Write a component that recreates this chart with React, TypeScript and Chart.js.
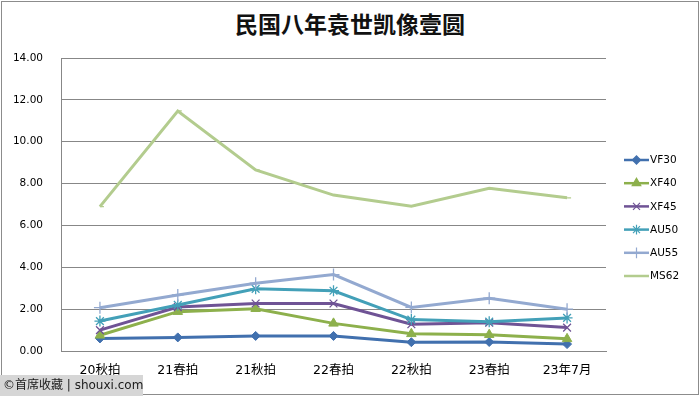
import React, { useEffect, useRef } from "react";
import { Chart, registerables } from "chart.js";
import { drawPoint } from "chart.js/helpers";

Chart.register(...registerables);

const categories = ["20秋拍", "21春拍", "21秋拍", "22春拍", "22秋拍", "23春拍", "23年7月"];
const vf30 = [0.6, 0.65, 0.72, 0.72, 0.42, 0.43, 0.33];
const xf40 = [0.75, 1.88, 2.02, 1.32, 0.82, 0.78, 0.58];
const xf45 = [1.0, 2.1, 2.27, 2.27, 1.28, 1.35, 1.12];
const au50 = [1.43, 2.2, 2.97, 2.88, 1.5, 1.4, 1.58];
const au55 = [2.07, 2.68, 3.24, 3.65, 2.08, 2.52, 2.0];
const ms62 = [6.9, 11.47, 8.65, 7.45, 6.92, 7.77, 7.32];
const yTicks = [0, 2, 4, 6, 8, 10, 12, 14];

const seriesNames = ["VF30", "XF40", "XF45", "AU50", "AU55", "MS62"];
const seriesData = [vf30, xf40, xf45, au50, au55, ms62];
const seriesColors = ["#4170AE", "#8DB04C", "#6F5395", "#43A0B8", "#93A9D0", "#B3CC8E"];
const seriesMarkers: any[] = ["rectRot", "triangle", "crossRot", "star", "cross", "dash"];
const markerRadius = [4.5, 5.5, 5.5, 5.5, 6, 4];

const legendPlugin = {
  id: "customLegend",
  afterDraw(chart: any) {
    const ctx = chart.ctx;
    ctx.save();
    const startY = 160;
    const gap = 23.2;
    chart.data.datasets.forEach((ds: any, i: number) => {
      const y = startY + i * gap;
      ctx.strokeStyle = ds.borderColor;
      ctx.fillStyle = ds.borderColor;
      ctx.lineWidth = 2.5;
      ctx.beginPath();
      ctx.moveTo(624, y);
      ctx.lineTo(649, y);
      ctx.stroke();
      if (i < 5) {
        ctx.lineWidth = 1.2;
        drawPoint(ctx, { pointStyle: ds.pointStyle, radius: ds.pointRadius * 0.9, rotation: 0, borderWidth: 1.2 }, 636.5, y);
      }
      ctx.fillStyle = "#000";
      ctx.font = "10.5px 'DejaVu Sans'";
      ctx.textAlign = "left";
      ctx.textBaseline = "middle";
      ctx.fillText(ds.label, 650, y + 0.5);
    });
    ctx.restore();
  },
};

export default function App() {
  const ref = useRef<HTMLCanvasElement | null>(null);
  useEffect(() => {
    if (!ref.current) return;
    const chart = new Chart(ref.current, {
      type: "line",
      data: {
        labels: categories,
        datasets: seriesNames.map((name, i) => ({
          label: name,
          data: seriesData[i],
          borderColor: seriesColors[i],
          backgroundColor: seriesColors[i],
          borderWidth: 3,
          pointStyle: seriesMarkers[i],
          pointRadius: markerRadius[i],
          pointBorderWidth: i === 0 || i === 1 ? 1 : 1.3,
          pointBorderColor: seriesColors[i],
          pointBackgroundColor: seriesColors[i],
          tension: 0,
          order: 6 - i,
        })),
      },
      options: {
        animation: false,
        responsive: false,
        layout: { padding: { left: 0, right: 94, top: 58, bottom: 6 } },
        plugins: {
          legend: { display: false },
          title: { display: false },
          tooltip: { enabled: false },
        },
        scales: {
          x: {
            offset: true,
            grid: { display: false, drawTicks: false, offset: true },
            border: { display: true, color: "#878787", width: 1 },
            ticks: {
              color: "#000",
              padding: 12,
              font: { size: 12.5, family: "'DejaVu Sans', 'Noto Sans CJK SC'" },
              maxRotation: 0,
              autoSkip: false,
            },
          },
          y: {
            min: 0,
            max: 14,
            afterBuildTicks: (scale: any) => {
              scale.ticks = yTicks.map((v) => ({ value: v }));
            },
            afterFit: (scale: any) => {
              scale.width = 61;
            },
            grid: { color: "#878787", lineWidth: 1, drawTicks: false },
            border: { display: true, color: "#878787", width: 1 },
            ticks: {
              color: "#000",
              padding: 18,
              font: { size: 10.5, family: "'DejaVu Sans'" },
              callback: (v: any) => Number(v).toFixed(2),
            },
          },
        },
      },
      plugins: [legendPlugin],
    });
    return () => chart.destroy();
  }, []);

  return (
    <div style={{ position: "fixed", left: 0, top: 0, width: 700, height: 396, background: "#fff", overflow: "hidden" }}>
      <div style={{ position: "absolute", left: 1, top: 1, width: 696, height: 392, border: "1px solid #8c8c8c" }} />
      <div
        style={{
          position: "absolute",
          left: 0,
          top: 8,
          width: 700,
          textAlign: "center",
          fontFamily: "'Noto Sans CJK SC'",
          fontWeight: 700,
          fontSize: 23,
          lineHeight: "30px",
          color: "#111",
        }}
      >
        民国八年袁世凯像壹圆
      </div>
      <canvas ref={ref} width={700} height={396} style={{ position: "absolute", left: 0, top: 0, width: 700, height: 396 }} />
      <div
        style={{
          position: "absolute",
          left: 0,
          top: 375,
          width: 143,
          height: 21,
          background: "#d6d6d6",
          fontFamily: "'DejaVu Sans', 'Noto Sans CJK SC'",
          fontSize: 12,
          lineHeight: "21px",
          color: "#1a1a1a",
          paddingLeft: 3,
          boxSizing: "border-box",
          whiteSpace: "nowrap",
        }}
      >
        ©首席收藏 | shouxi.com
      </div>
    </div>
  );
}
